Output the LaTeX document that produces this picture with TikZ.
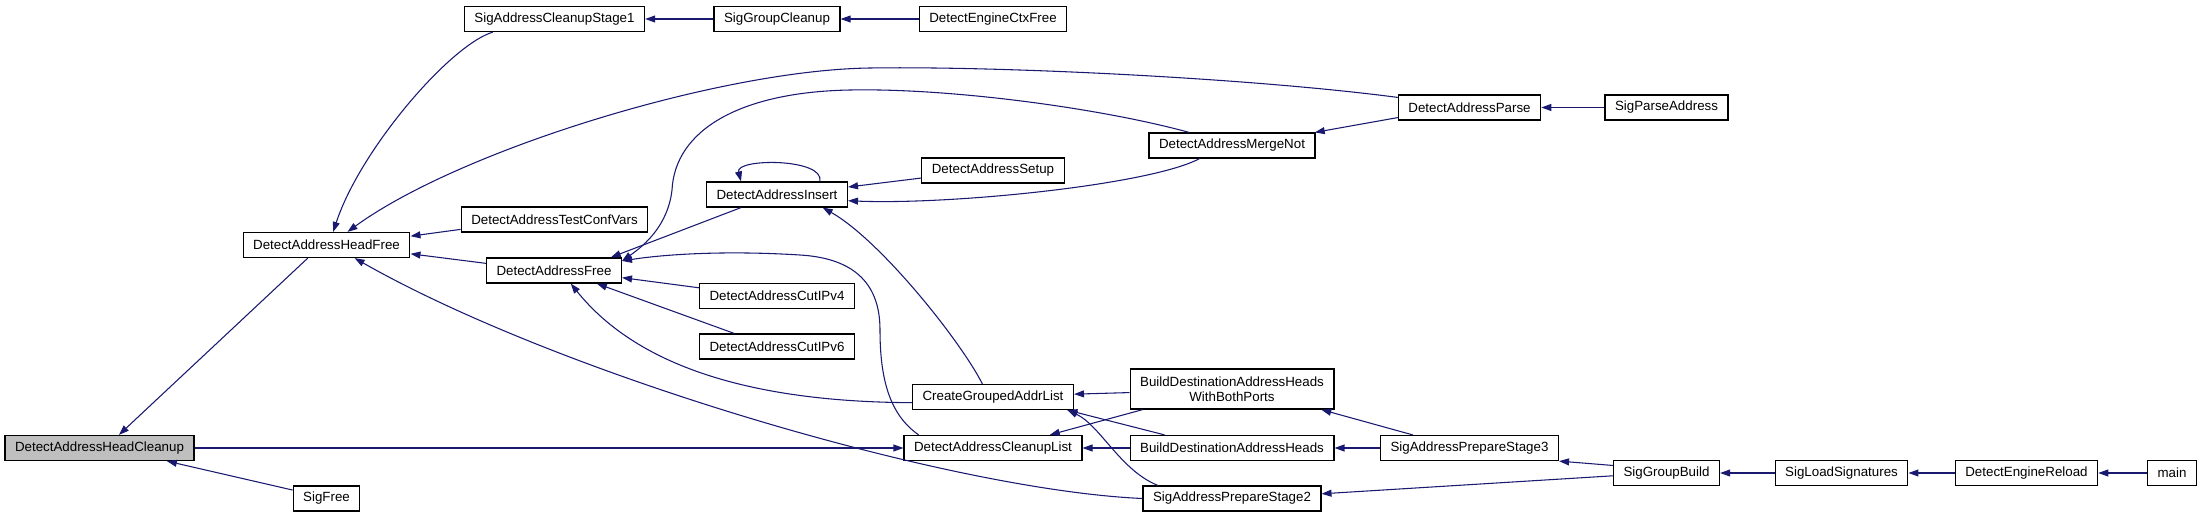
\documentclass[tikz,border=0pt]{standalone}
\usepackage{fontspec}
\setmainfont{Liberation Sans}
\usetikzlibrary{arrows.meta}
\definecolor{callblue}{RGB}{25,25,112}
\definecolor{rootgray}{RGB}{191,191,191}

\begin{document}
\begin{tikzpicture}[
  x=0.75pt,
  y=-0.75pt,
  font=\fontsize{10}{11.25}\selectfont,
  fnbox/.style={
    rectangle,
    draw=black,
    fill=white,
    line width=0.9pt,
    minimum height=18.75pt,
    inner xsep=7.5pt,
    inner ysep=0pt
  },
  rootbox/.style={fnbox, fill=rootgray},
  twoline/.style={fnbox, align=center, minimum height=30pt},
  callarrow/.style={
    draw=callblue,
    line width=0.8pt,
    -{Triangle[length=7.5pt,width=5.2pt]}
  }
]
\useasboundingbox (0,0) rectangle (2203,517);

\node[rootbox] (hclean) at (99.5,448) {DetectAddressHeadCleanup};
\node[fnbox] (hfree) at (326.5,245) {DetectAddressHeadFree};
\node[fnbox] (sigfree) at (326.5,498.5) {SigFree};
\node[fnbox] (stage1) at (554.5,19) {SigAddressCleanupStage1};
\node[fnbox] (testconf) at (554.5,219.5) {DetectAddressTestConfVars};
\node[fnbox] (afree) at (554,270.5) {DetectAddressFree};
\node[fnbox] (grpclean) at (777,19) {SigGroupCleanup};
\node[fnbox] (insert) at (777,194.5) {DetectAddressInsert};
\node[fnbox] (cut4) at (777,296) {DetectAddressCutIPv4};
\node[fnbox] (cut6) at (777,346.5) {DetectAddressCutIPv6};
\node[fnbox] (ctxfree) at (993,19) {DetectEngineCtxFree};
\node[fnbox] (setup) at (993,170.5) {DetectAddressSetup};
\node[fnbox] (grouped) at (993,397) {CreateGroupedAddrList};
\node[fnbox] (cleanlist) at (993,448) {DetectAddressCleanupList};
\node[fnbox] (mergenot) at (1232,145.5) {DetectAddressMergeNot};
\node[twoline] (both) at (1232,389) {BuildDestinationAddressHeads\\WithBothPorts};
\node[fnbox] (bdah) at (1232,448) {BuildDestinationAddressHeads};
\node[fnbox] (stage2) at (1232,498.5) {SigAddressPrepareStage2};
\node[fnbox] (parse) at (1469.5,107.5) {DetectAddressParse};
\node[fnbox] (stage3) at (1469.5,448) {SigAddressPrepareStage3};
\node[fnbox] (sigparse) at (1666.5,107.5) {SigParseAddress};
\node[fnbox] (grpbuild) at (1666.5,473) {SigGroupBuild};
\node[fnbox] (loadsig) at (1841.5,473) {SigLoadSignatures};
\node[fnbox] (reload) at (2026.5,473) {DetectEngineReload};
\node[fnbox] (main) at (2172,473) {main};

% straight calls
\draw[callarrow] (grpclean.west) -- (stage1.east);
\draw[callarrow] (ctxfree.west) -- (grpclean.east);
\draw[callarrow] (testconf.186) -- (hfree.6);
\draw[callarrow] (afree.174) -- (hfree.354);
\draw[callarrow] (hfree.215) -- (hclean.34);
\draw[callarrow] (sigfree.166) -- (hclean.349);
\draw[callarrow] (hclean.east) -- (cleanlist.west);
\draw[callarrow] (insert.200) -- (afree.13);
\draw[callarrow] (cut4.174) -- (afree.354);
\draw[callarrow] (cut6.163) -- (afree.343);
\draw[callarrow] (setup.186) -- (insert.6);
\draw[callarrow] (parse.188) -- (mergenot.9);
\draw[callarrow] (sigparse.west) -- (parse.east);
\draw[callarrow] (both.182) -- (grouped.2);
\draw[callarrow] (both.193) -- (cleanlist.13);
\draw[callarrow] (bdah.169) -- (grouped.350);
\draw[callarrow] (bdah.west) -- (cleanlist.east);
\draw[callarrow] (stage3.167) -- (both.347);
\draw[callarrow] (stage3.west) -- (bdah.east);
\draw[callarrow] (grpbuild.172) -- (stage3.south east);
\draw[callarrow] (grpbuild.183) -- (stage2.3);
\draw[callarrow] (loadsig.west) -- (grpbuild.east);
\draw[callarrow] (reload.west) -- (loadsig.east);
\draw[callarrow] (main.west) -- (reload.east);

% curved calls
\draw[callarrow] (stage1.192) .. controls (450,45) and (360,150) .. (hfree.63);
\draw[callarrow] (parse.172) .. controls (1250,78) and (1000,66) .. (870,68)
  .. controls (720,70) and (460,150) .. (hfree.32);
\draw[callarrow] (stage2.west) .. controls (950,490) and (560,375) .. (hfree.335);
\draw[callarrow] (mergenot.163) .. controls (1100,108) and (950,88) .. (850,90)
  .. controls (740,92) and (675,130) .. (672,190)
  .. controls (668,225) and (645,245) .. (afree.8);
\draw[callarrow] (cleanlist.170) .. controls (890,415) and (880,380) .. (880,330)
  .. controls (880,280) and (850,258) .. (800,255)
  .. controls (720,250) and (660,255) .. (afree.8);
\draw[callarrow] (grouped.184) .. controls (760,402) and (640,370) .. (afree.322);
\draw[callarrow] (mergenot.202) .. controls (1150,185) and (950,205) .. (insert.355);
\draw[callarrow] (insert.17) .. controls (825,158) and (735,158) .. (insert.160);
\draw[callarrow] (grouped.129) .. controls (960,340) and (880,240) .. (insert.344);
\draw[callarrow] (stage2.170) .. controls (1120,470) and (1100,425) .. (grouped.350);

\end{tikzpicture}
\end{document}
